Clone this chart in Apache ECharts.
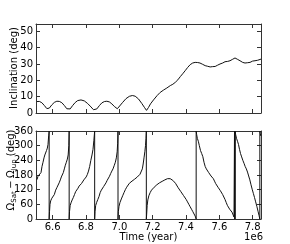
<!DOCTYPE html>
<html><head><meta charset="utf-8">
<script src="https://cdn.jsdelivr.net/npm/echarts@6/dist/echarts.min.js"></script>
<style>html,body{margin:0;padding:0;background:#fff}#c{width:290px;height:244px}</style>
</head><body><div id="c"></div>
<script>
// Time in units of 1e6 years
const incTime = [6.506,6.52,6.535,6.55,6.565,6.572,6.58,6.595,6.61,6.625,6.64,6.655,6.67,6.685,6.696,6.705,6.72,6.735,6.75,6.77,6.79,6.81,6.83,6.845,6.854,6.865,6.88,6.895,6.91,6.925,6.94,6.955,6.97,6.988,7.0,7.02,7.04,7.06,7.078,7.095,7.115,7.135,7.15,7.163,7.175,7.187,7.205,7.227,7.245,7.266,7.285,7.306,7.321,7.336,7.351,7.366,7.38,7.395,7.41,7.425,7.44,7.455,7.47,7.484,7.5,7.515,7.53,7.545,7.56,7.575,7.59,7.604,7.62,7.634,7.65,7.664,7.68,7.694,7.71,7.724,7.74,7.754,7.77,7.784,7.8,7.814,7.83,7.85];
const incDeg = [7.0,7.1,6.3,4.6,2.7,2.2,3.0,5.0,6.5,7.2,7.1,6.3,4.6,2.6,1.6,2.5,4.6,6.4,7.6,8.0,7.4,5.8,3.7,2.0,1.4,2.5,4.5,6.2,7.0,7.2,6.8,5.6,4.0,2.6,3.6,6.5,8.8,10.2,10.7,10.3,8.6,5.8,3.5,1.6,3.4,5.6,8.0,10.7,12.6,14.1,15.3,16.8,17.6,18.8,20.3,22.3,24.0,25.9,27.9,29.6,30.6,31.0,30.9,30.6,29.8,29.0,28.6,28.2,28.4,28.5,29.3,30.0,30.6,31.4,31.6,32.0,32.9,33.7,32.8,32.0,31.0,30.6,30.8,31.0,31.8,32.0,32.3,33.0];

const nodeTime = [6.506,6.512,6.518,6.524,6.530,6.536,6.542,6.548,6.553,6.558,6.563,6.568,6.572,6.576,6.579,6.579,
6.581,6.584,6.588,6.595,6.602,6.610,6.618,6.625,6.632,6.639,6.646,6.652,6.658,6.664,6.670,6.676,6.682,6.688,6.693,6.697,6.699,6.699,
6.701,6.705,6.710,6.717,6.724,6.731,6.738,6.745,6.752,6.759,6.766,6.773,6.780,6.787,6.794,6.801,6.808,6.815,6.822,6.829,6.836,6.842,6.847,6.852,6.852,
6.854,6.858,6.864,6.871,6.878,6.885,6.892,6.899,6.906,6.913,6.920,6.927,6.934,6.941,6.948,6.955,6.962,6.969,6.976,6.982,6.987,6.990,6.992,6.992,
6.994,6.998,7.004,7.012,7.020,7.028,7.036,7.044,7.052,7.060,7.068,7.076,7.084,7.092,7.100,7.108,7.116,7.124,7.132,7.138,7.143,7.148,7.153,7.157,7.160,7.162,7.162,
7.164,7.167,7.171,7.177,7.185,7.193,7.201,7.209,7.217,7.225,7.233,7.241,7.249,7.257,7.265,7.273,7.281,7.289,7.297,7.305,7.313,7.321,7.329,7.337,7.345,7.353,7.361,7.369,7.377,7.385,7.393,7.401,7.409,7.417,7.425,7.433,7.441,7.449,7.455,7.461,7.461,
7.464,7.468,7.474,7.480,7.487,7.494,7.501,7.508,7.515,7.522,7.529,7.536,7.543,7.550,7.557,7.564,7.571,7.578,7.585,7.592,7.599,7.606,7.613,7.620,7.627,7.634,7.641,7.648,7.655,7.662,7.669,7.676,7.683,7.688,7.691,
7.691,7.692,7.693,7.694,7.695,
7.698,7.703,7.709,7.715,7.721,7.727,7.734,7.741,7.748,7.755,7.762,7.769,7.776,7.783,7.790,7.797,7.804,7.811,7.818,7.825,7.832,7.838,7.843,7.843,7.846,7.848];
const nodeDeg = [161,175,180,178,190,215,232,250,262,268,280,290,305,340,360,0,
30,60,74,85,92,100,118,128,135,148,160,172,178,190,205,220,232,245,262,300,360,0,
30,55,66,78,88,100,112,118,126,135,142,145,152,160,166,172,182,196,215,240,262,285,320,360,0,
30,55,68,80,92,108,118,126,133,140,148,158,165,175,186,196,205,218,232,250,275,310,360,0,
30,52,68,82,95,108,120,130,138,146,151,155,160,163,168,172,178,183,190,205,225,250,275,300,330,360,0,
20,55,78,95,108,118,124,130,134,140,145,148,152,154,157,160,162,165,167,165,162,158,152,146,138,128,120,112,104,96,88,80,70,60,50,40,30,22,12,0,360,
345,330,318,300,280,268,255,232,215,205,198,190,185,176,170,165,155,145,138,130,122,116,110,100,90,80,68,56,48,40,34,28,20,8,0,
360,0,360,0,360,
345,330,318,305,285,268,254,240,228,215,205,192,176,160,140,122,105,88,70,52,32,15,0,360,350,340];

const timeTicks = [6.6,6.8,7.0,7.2,7.4,7.6,7.8];
const incTicks = [0,10,20,30,40,50];
const nodeTicks = [0,60,120,180,240,300,360];

const FONT = 'DejaVu Sans';
const AX = '#333';

function xAx(grid, pos, labels) {
  return {type:'value', gridIndex:grid, position:pos, min:6.5, max:7.85,
    axisLine:{show:true, onZero:false, lineStyle:{color:AX, width:1}},
    axisTick:{show:true, inside:true, length:4, customValues: timeTicks, lineStyle:{color:AX}},
    axisLabel:{show:labels, customValues: timeTicks, formatter: v => v.toFixed(1), margin:3,
      fontFamily:FONT, fontSize:10, color:'#000'},
    splitLine:{show:false}};
}
function yAx(grid, pos, labels, max, ticks) {
  return {type:'value', gridIndex:grid, position:pos, min:0, max:max,
    axisLine:{show:true, onZero:false, lineStyle:{color:AX, width:1}},
    axisTick:{show:true, inside:true, length:4, customValues: ticks, lineStyle:{color:AX}},
    axisLabel:{show:labels, customValues: ticks, margin:3, fontFamily:FONT, fontSize:10, color:'#000'},
    splitLine:{show:false}};
}

// Build the rotated Omega label from pieces (mathtext-like subscripts)
const mctx = document.createElement('canvas').getContext('2d');
function tw(s, size) { mctx.font = size + 'px "' + FONT + '"'; return mctx.measureText(s).width; }
const pieces = [
  {t:'Ω', s:10, dy:0, gap:0},
  {t:'Sat', s:7, dy:3, gap:2.5},
  {t:'−', s:10, dy:0, gap:2.5},
  {t:'Ω', s:10, dy:0, gap:0},
  {t:'Jup', s:7, dy:3, gap:0},
  {t:' (deg)', s:10, dy:0, gap:0}
];
let cx = 0; const children = [];
pieces.forEach(p => {
  children.push({type:'text', x:cx, y:p.dy,
    style:{text:p.t, fontFamily:FONT, fontSize:p.s, fill:'#000', align:'left', verticalAlign:'middle'}});
  cx += tw(p.t, p.s) + p.gap;
});
const totalLen = cx;
const labelCenterY = 170;

const chart = echarts.init(document.getElementById('c'), null, {renderer:'canvas'});
chart.setOption({
  animation:false,
  backgroundColor:'#fff',
  grid:[
    {left:36, right:29, top:24, height:89},
    {left:36, right:29, top:131, height:88}
  ],
  xAxis:[xAx(0,'bottom',false), xAx(0,'top',false), xAx(1,'bottom',true), xAx(1,'top',false)],
  yAxis:[yAx(0,'left',true,54.5,incTicks), yAx(0,'right',false,54.5,incTicks),
         yAx(1,'left',true,360,nodeTicks), yAx(1,'right',false,360,nodeTicks)],
  series:[
    {type:'line', xAxisIndex:0, yAxisIndex:0, data: incTime.map((t,i)=>[t,incDeg[i]]),
     showSymbol:false, lineStyle:{color:'#111', width:1}},
    {type:'line', xAxisIndex:2, yAxisIndex:2, data: nodeTime.map((t,i)=>[t,nodeDeg[i]]),
     showSymbol:false, lineStyle:{color:'#111', width:1}}
  ],
  graphic:[
    {type:'text', x:14, y:68, rotation:Math.PI/2,
     style:{text:'Inclination (deg)', fontFamily:FONT, fontSize:10, fill:'#000', align:'center', verticalAlign:'middle'}},
    {type:'group', x:11, y:labelCenterY + totalLen/2, rotation:Math.PI/2, children: children},
    {type:'text', x:148.5, y:237,
     style:{text:'Time (year)', fontFamily:FONT, fontSize:10, fill:'#000', align:'center', verticalAlign:'middle'}},
    {type:'text', x:263, y:237.5,
     style:{text:'1e6', fontFamily:FONT, fontSize:10, fill:'#000', align:'right', verticalAlign:'middle'}}
  ]
});
</script>
</body></html>
